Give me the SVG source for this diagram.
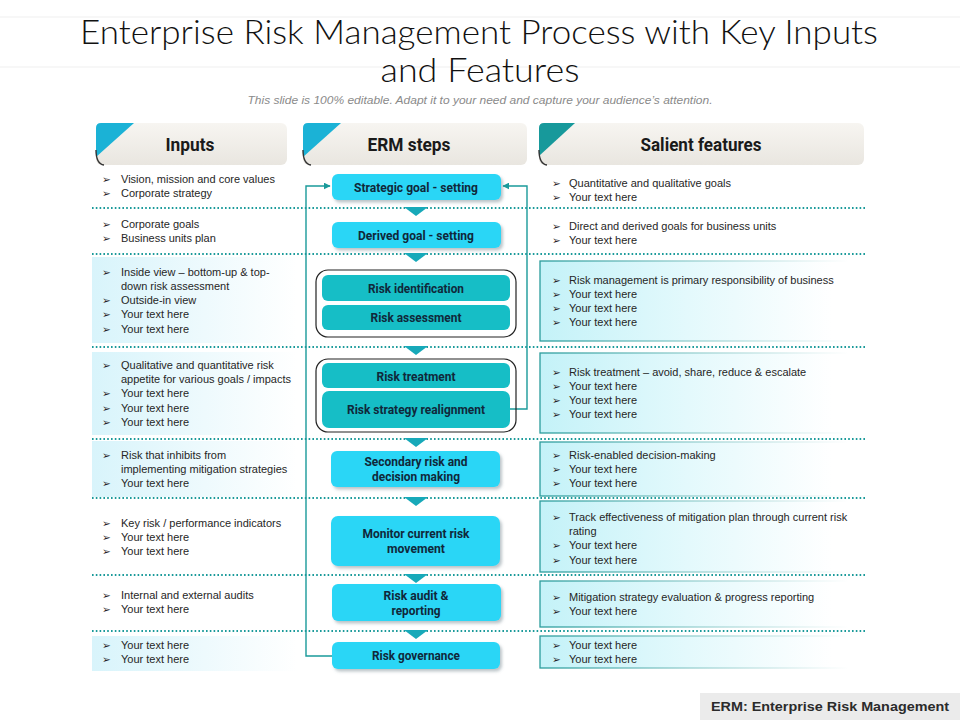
<svg xmlns="http://www.w3.org/2000/svg" width="960" height="720" viewBox="0 0 960 720">
<style>
.title{font-family:Lato,"Open Sans","Liberation Sans",sans-serif;font-weight:300;font-size:34px;fill:#111;text-anchor:middle}
.sub{font-family:"Liberation Sans",Arial,sans-serif;font-style:italic;font-size:11px;fill:#8a8a8a;text-anchor:middle}
.hdr{font-family:Roboto,"Liberation Sans",sans-serif;font-weight:bold;font-size:19px;fill:#1a1a1a;text-anchor:middle}
.nt{font-family:Roboto,"Liberation Sans",sans-serif;font-weight:bold;font-size:13.5px;fill:#10283a;text-anchor:middle}
.bt{font-family:"Liberation Sans",Arial,sans-serif;font-size:11px;fill:#262626}
.bl{font-family:"DejaVu Sans",sans-serif;font-size:10.5px;fill:#222}
.dot{stroke:#1a9a9a;stroke-width:1.8;stroke-dasharray:1.6 2.2;fill:none}
.step{fill:#29d6f6;filter:url(#sh)}
.inner{fill:#16bec6}
.grp{fill:none;stroke:#222;stroke-width:1.2}
.chev{fill:#17a9b9}
.conn{fill:none;stroke:#1a9a9a;stroke-width:1.4}
.hbox{fill:url(#hg)}
.lrow{fill:url(#lg)}
.rbox{fill:url(#rg);stroke:url(#rs);stroke-width:1.3}
.faint{stroke:#efefef;stroke-width:1}
</style>
<defs>
<linearGradient id="hg" x1="0" y1="0" x2="0" y2="1"><stop offset="0" stop-color="#f7f5f1"/><stop offset="1" stop-color="#e9e6e0"/></linearGradient>
<linearGradient id="lg" x1="0" y1="0" x2="1" y2="0"><stop offset="0" stop-color="#d8f4fb"/><stop offset="0.55" stop-color="#eefafd"/><stop offset="1" stop-color="#ffffff"/></linearGradient>
<linearGradient id="rg" x1="0" y1="0" x2="1" y2="0"><stop offset="0" stop-color="#c4f2f8"/><stop offset="0.45" stop-color="#e3f9fc"/><stop offset="0.9" stop-color="#ffffff"/></linearGradient>
<linearGradient id="rs" x1="0" y1="0" x2="1" y2="0"><stop offset="0" stop-color="#2a9c9c"/><stop offset="0.5" stop-color="#9fd3d3"/><stop offset="0.95" stop-color="#ffffff"/></linearGradient>
<filter id="sh" x="-10%" y="-20%" width="130%" height="160%"><feDropShadow dx="2" dy="2.5" stdDeviation="1.8" flood-color="#6c7f88" flood-opacity="0.45"/></filter>
<marker id="ar" viewBox="0 0 10 10" refX="9" refY="5" markerWidth="7" markerHeight="7" markerUnits="userSpaceOnUse" orient="auto"><path d="M0,0 L10,5 L0,10 Z" fill="#1a9a9a"/></marker>
</defs>
<rect x="0" y="0" width="960" height="720" fill="#ffffff"/>
<line class="faint" x1="0" y1="17" x2="960" y2="17"/>
<line class="faint" x1="0" y1="67" x2="960" y2="67"/>
<g id="title">
<text class="title" x="479" y="44" textLength="798" lengthAdjust="spacingAndGlyphs">Enterprise Risk Management Process with Key Inputs</text>
<text class="title" x="480" y="82" textLength="199" lengthAdjust="spacingAndGlyphs">and Features</text>
<text class="sub" x="480" y="104" textLength="465" lengthAdjust="spacingAndGlyphs">This slide is 100% editable. Adapt it to your need and capture your audience’s attention.</text>
</g>
<g id="row-backgrounds">
<rect class="lrow" x="92" y="257" width="205" height="86"/>
<rect class="lrow" x="92" y="352" width="205" height="83"/>
<rect class="lrow" x="92" y="441" width="205" height="56"/>
<rect class="lrow" x="92" y="636" width="205" height="35"/>
<rect class="rbox" x="540" y="261" width="325" height="80"/>
<rect class="rbox" x="540" y="353" width="325" height="80"/>
<rect class="rbox" x="540" y="442" width="325" height="54"/>
<rect class="rbox" x="540" y="501" width="325" height="71"/>
<rect class="rbox" x="540" y="581" width="325" height="46"/>
<rect class="rbox" x="540" y="636" width="325" height="32"/>
</g>
<g id="row-separators">
<line class="dot" x1="92" y1="208" x2="866" y2="208"/>
<line class="dot" x1="92" y1="254" x2="866" y2="254"/>
<line class="dot" x1="92" y1="347" x2="866" y2="347"/>
<line class="dot" x1="92" y1="439" x2="866" y2="439"/>
<line class="dot" x1="92" y1="498" x2="866" y2="498"/>
<line class="dot" x1="92" y1="575" x2="866" y2="575"/>
<line class="dot" x1="92" y1="631" x2="866" y2="631"/>
</g>
<g id="hdr-inputs">
<rect class="hbox" x="96" y="123" width="191" height="42" rx="6"/>
<path d="M101,123 L134,123 L96,157 L96,128 Q96,123 101,123 Z" fill="#1bb2d6"/>
<path d="M96,150 Q96,164 104,165" fill="none" stroke="#333" stroke-width="1.4"/>
<text class="hdr" x="190" y="151" textLength="49" lengthAdjust="spacingAndGlyphs">Inputs</text>
</g>
<g id="hdr-erm">
<rect class="hbox" x="303" y="123" width="224" height="42" rx="6"/>
<path d="M308,123 L341,123 L303,157 L303,128 Q303,123 308,123 Z" fill="#1bb2d6"/>
<path d="M303,150 Q303,164 311,165" fill="none" stroke="#333" stroke-width="1.4"/>
<text class="hdr" x="409" y="151" textLength="83" lengthAdjust="spacingAndGlyphs">ERM steps</text>
</g>
<g id="hdr-salient">
<rect class="hbox" x="539" y="123" width="325" height="42" rx="6"/>
<path d="M544,123 L575,123 L539,156 L539,128 Q539,123 544,123 Z" fill="#17999b"/>
<path d="M539,150 Q539,164 547,165" fill="none" stroke="#333" stroke-width="1.4"/>
<text class="hdr" x="701" y="151" textLength="121" lengthAdjust="spacingAndGlyphs">Salient features</text>
</g>
<g id="connectors">
<path class="conn" d="M332,656 H306 V186 H330" marker-end="url(#ar)"/>
<path class="conn" d="M510,409 H527 V186 H503" marker-end="url(#ar)"/>
</g>
<g id="step-strategic">
<rect class="step" x="332" y="174" width="169" height="26" rx="6"/>
<text class="nt" x="416" y="192" textLength="124" lengthAdjust="spacingAndGlyphs">Strategic goal - setting</text>
</g>
<g id="step-derived">
<rect class="step" x="332" y="222" width="169" height="26" rx="6"/>
<text class="nt" x="416" y="240" textLength="116" lengthAdjust="spacingAndGlyphs">Derived goal - setting</text>
</g>
<g id="group-identify-assess">
<rect class="grp" x="316" y="270" width="200" height="67" rx="12"/>
<g id="step-identification">
<rect class="inner" x="322" y="275" width="188" height="26" rx="6"/>
<text class="nt" x="416" y="293" textLength="96" lengthAdjust="spacingAndGlyphs">Risk identification</text>
</g>
<g id="step-assessment">
<rect class="inner" x="322" y="305" width="188" height="25" rx="6"/>
<text class="nt" x="416" y="322" textLength="91" lengthAdjust="spacingAndGlyphs">Risk assessment</text>
</g>
</g>
<g id="group-treatment">
<rect class="grp" x="316" y="359" width="200" height="73" rx="12"/>
<g id="step-treatment">
<rect class="inner" x="322" y="363" width="188" height="25" rx="6"/>
<text class="nt" x="416" y="381" textLength="79" lengthAdjust="spacingAndGlyphs">Risk treatment</text>
</g>
<g id="step-realignment">
<rect class="inner" x="322" y="391" width="188" height="37" rx="7"/>
<text class="nt" x="416" y="414" textLength="138" lengthAdjust="spacingAndGlyphs">Risk strategy realignment</text>
</g>
</g>
<g id="step-secondary">
<rect class="step" x="331" y="451" width="169" height="36" rx="6"/>
<text class="nt" x="416" y="466" textLength="103" lengthAdjust="spacingAndGlyphs">Secondary risk and</text>
<text class="nt" x="416" y="481" textLength="88" lengthAdjust="spacingAndGlyphs">decision making</text>
</g>
<g id="step-monitor">
<rect class="step" x="331" y="516" width="169" height="50" rx="7"/>
<text class="nt" x="416" y="538" textLength="107" lengthAdjust="spacingAndGlyphs">Monitor current risk</text>
<text class="nt" x="416" y="553" textLength="58" lengthAdjust="spacingAndGlyphs">movement</text>
</g>
<g id="step-audit">
<rect class="step" x="332" y="584" width="169" height="37" rx="6"/>
<text class="nt" x="416" y="600" textLength="65" lengthAdjust="spacingAndGlyphs">Risk audit &amp;</text>
<text class="nt" x="416" y="615" textLength="49" lengthAdjust="spacingAndGlyphs">reporting</text>
</g>
<g id="step-governance">
<rect class="step" x="332" y="642" width="168" height="27" rx="6"/>
<text class="nt" x="416" y="660" textLength="88" lengthAdjust="spacingAndGlyphs">Risk governance</text>
</g>
<g id="flow-chevrons">
<polygon class="chev" points="404,207 428,207 416,216"/>
<polygon class="chev" points="404,253 428,253 416,262"/>
<polygon class="chev" points="404,346 428,346 416,355"/>
<polygon class="chev" points="404,438 428,438 416,447"/>
<polygon class="chev" points="404,497 428,497 416,506"/>
<polygon class="chev" points="404,574 428,574 416,583"/>
<polygon class="chev" points="404,630 428,630 416,639"/>
</g>
<g id="inputs-text">
<g class="bl">
<text x="102" y="183">➢</text><text x="102" y="197">➢</text>
<text x="102" y="228">➢</text><text x="102" y="242">➢</text>
<text x="102" y="276">➢</text><text x="102" y="304">➢</text><text x="102" y="318">➢</text><text x="102" y="333">➢</text>
<text x="102" y="369">➢</text><text x="102" y="397">➢</text><text x="102" y="412">➢</text><text x="102" y="426">➢</text>
<text x="102" y="459">➢</text><text x="102" y="487">➢</text>
<text x="102" y="527">➢</text><text x="102" y="541">➢</text><text x="102" y="555">➢</text>
<text x="102" y="599">➢</text><text x="102" y="613">➢</text>
<text x="102" y="649">➢</text><text x="102" y="663">➢</text>
</g>
<text class="bt"><tspan x="121" y="183">Vision, mission and core values</tspan><tspan x="121" y="197">Corporate strategy</tspan></text>
<text class="bt"><tspan x="121" y="228">Corporate goals</tspan><tspan x="121" y="242">Business units plan</tspan></text>
<text class="bt"><tspan x="121" y="276">Inside view – bottom-up &amp; top-</tspan><tspan x="121" y="290">down risk assessment</tspan><tspan x="121" y="304">Outside-in view</tspan><tspan x="121" y="318">Your text here</tspan><tspan x="121" y="333">Your text here</tspan></text>
<text class="bt"><tspan x="121" y="369">Qualitative and quantitative risk</tspan><tspan x="121" y="383">appetite for various goals / impacts</tspan><tspan x="121" y="397">Your text here</tspan><tspan x="121" y="412">Your text here</tspan><tspan x="121" y="426">Your text here</tspan></text>
<text class="bt"><tspan x="121" y="459">Risk that inhibits from</tspan><tspan x="121" y="473">implementing mitigation strategies</tspan><tspan x="121" y="487">Your text here</tspan></text>
<text class="bt"><tspan x="121" y="527">Key risk / performance indicators</tspan><tspan x="121" y="541">Your text here</tspan><tspan x="121" y="555">Your text here</tspan></text>
<text class="bt"><tspan x="121" y="599">Internal and external audits</tspan><tspan x="121" y="613">Your text here</tspan></text>
<text class="bt"><tspan x="121" y="649">Your text here</tspan><tspan x="121" y="663">Your text here</tspan></text>
</g>
<g id="features-text">
<g class="bl">
<text x="552" y="187">➢</text><text x="552" y="201">➢</text>
<text x="552" y="230">➢</text><text x="552" y="244">➢</text>
<text x="552" y="284">➢</text><text x="552" y="298">➢</text><text x="552" y="312">➢</text><text x="552" y="326">➢</text>
<text x="552" y="376">➢</text><text x="552" y="390">➢</text><text x="552" y="404">➢</text><text x="552" y="418">➢</text>
<text x="552" y="459">➢</text><text x="552" y="473">➢</text><text x="552" y="487">➢</text>
<text x="552" y="521">➢</text><text x="552" y="549">➢</text><text x="552" y="564">➢</text>
<text x="552" y="601">➢</text><text x="552" y="615">➢</text>
<text x="552" y="649">➢</text><text x="552" y="663">➢</text>
</g>
<text class="bt"><tspan x="569" y="187">Quantitative and qualitative goals</tspan><tspan x="569" y="201">Your text here</tspan></text>
<text class="bt"><tspan x="569" y="230">Direct and derived goals for business units</tspan><tspan x="569" y="244">Your text here</tspan></text>
<text class="bt"><tspan x="569" y="284">Risk management is primary responsibility of business</tspan><tspan x="569" y="298">Your text here</tspan><tspan x="569" y="312">Your text here</tspan><tspan x="569" y="326">Your text here</tspan></text>
<text class="bt"><tspan x="569" y="376">Risk treatment – avoid, share, reduce &amp; escalate</tspan><tspan x="569" y="390">Your text here</tspan><tspan x="569" y="404">Your text here</tspan><tspan x="569" y="418">Your text here</tspan></text>
<text class="bt"><tspan x="569" y="459">Risk-enabled decision-making</tspan><tspan x="569" y="473">Your text here</tspan><tspan x="569" y="487">Your text here</tspan></text>
<text class="bt"><tspan x="569" y="521">Track effectiveness of mitigation plan through current risk</tspan><tspan x="569" y="535">rating</tspan><tspan x="569" y="549">Your text here</tspan><tspan x="569" y="564">Your text here</tspan></text>
<text class="bt"><tspan x="569" y="601">Mitigation strategy evaluation &amp; progress reporting</tspan><tspan x="569" y="615">Your text here</tspan></text>
<text class="bt"><tspan x="569" y="649">Your text here</tspan><tspan x="569" y="663">Your text here</tspan></text>
</g>
<g id="footer">
<rect x="700" y="693" width="260" height="27" fill="#ebebeb"/>
<text x="711" y="711" font-family="'Liberation Sans',Arial,sans-serif" font-weight="bold" font-size="13.5" fill="#2b2b2b" textLength="238" lengthAdjust="spacingAndGlyphs">ERM: Enterprise Risk Management</text>
</g>
</svg>
